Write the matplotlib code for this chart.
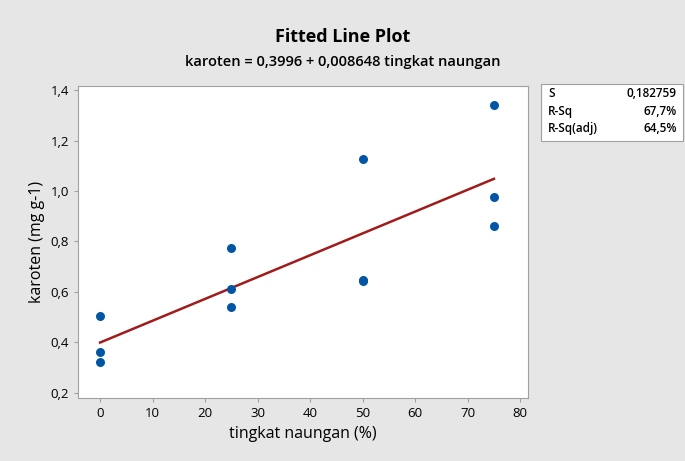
import numpy as np
import matplotlib.pyplot as plt
from matplotlib.patches import Rectangle

plt.rcParams['font.family'] = ['Open Sans', 'DejaVu Sans']

# data
naungan = [0, 0, 0, 25, 25, 25, 50, 50, 50, 75, 75, 75]
karoten = [0.505, 0.362, 0.323, 0.774, 0.612, 0.541, 1.127, 0.646, 0.642, 1.341, 0.976, 0.861]
b0, b1 = 0.3996, 0.008648
stats_lbl = ['S', 'R-Sq', 'R-Sq(adj)']
stats_val = ['0,182759', '67,7%', '64,5%']
xticks = [0, 10, 20, 30, 40, 50, 60, 70, 80]
yticks = [0.2, 0.4, 0.6, 0.8, 1.0, 1.2, 1.4]

bg = '#e6e6e6'
fig = plt.figure(figsize=(6.85, 4.61), dpi=100, facecolor=bg)
ax = fig.add_axes([0.1139, 0.1367, 0.657, 0.6768])
ax.set_facecolor('white')

xl = np.linspace(min(naungan), max(naungan), 50)
ax.plot(xl, b0 + b1*xl, color='#a01c1c', lw=1.8, zorder=2)
ax.scatter(naungan, karoten, s=42, color='#0055a5', zorder=3, linewidths=0)

ax.set_xlim(-4.2, 81.5)
ax.set_ylim(0.18, 1.416)
ax.set_xticks(xticks)
ax.set_yticks(yticks)
ax.set_yticklabels([f'{v:.1f}'.replace('.', ',') for v in yticks])
for s in ax.spines.values():
    s.set_color('#a0a0a0')
ax.tick_params(colors='#a0a0a0', labelcolor='black', labelsize=9.5, length=3)
ax.set_xlabel('tingkat naungan (%)', fontsize=11.5)
ax.set_ylabel('karoten (mg g-1)', fontsize=11.5)

fig.text(0.5, 0.92, 'Fitted Line Plot', ha='center', va='center', fontsize=13, fontweight='bold')
fig.text(0.5, 0.866, 'karoten = 0,3996 + 0,008648 tingkat naungan', ha='center', va='center',
         fontsize=10.5, fontweight='semibold')

fig.patches.append(Rectangle((0.790, 0.694), 0.207, 0.124, transform=fig.transFigure,
                             facecolor='white', edgecolor='#a0a0a0', lw=0.8))
for i, (l, v) in enumerate(zip(stats_lbl, stats_val)):
    yy = 0.797 - i*0.038
    fig.text(0.800, yy, l, fontsize=8.5, va='center', ha='left', fontweight='semibold')
    fig.text(0.988, yy, v, fontsize=8.5, va='center', ha='right', fontweight='semibold')

fig.savefig('out.png', dpi=100, facecolor=bg)
